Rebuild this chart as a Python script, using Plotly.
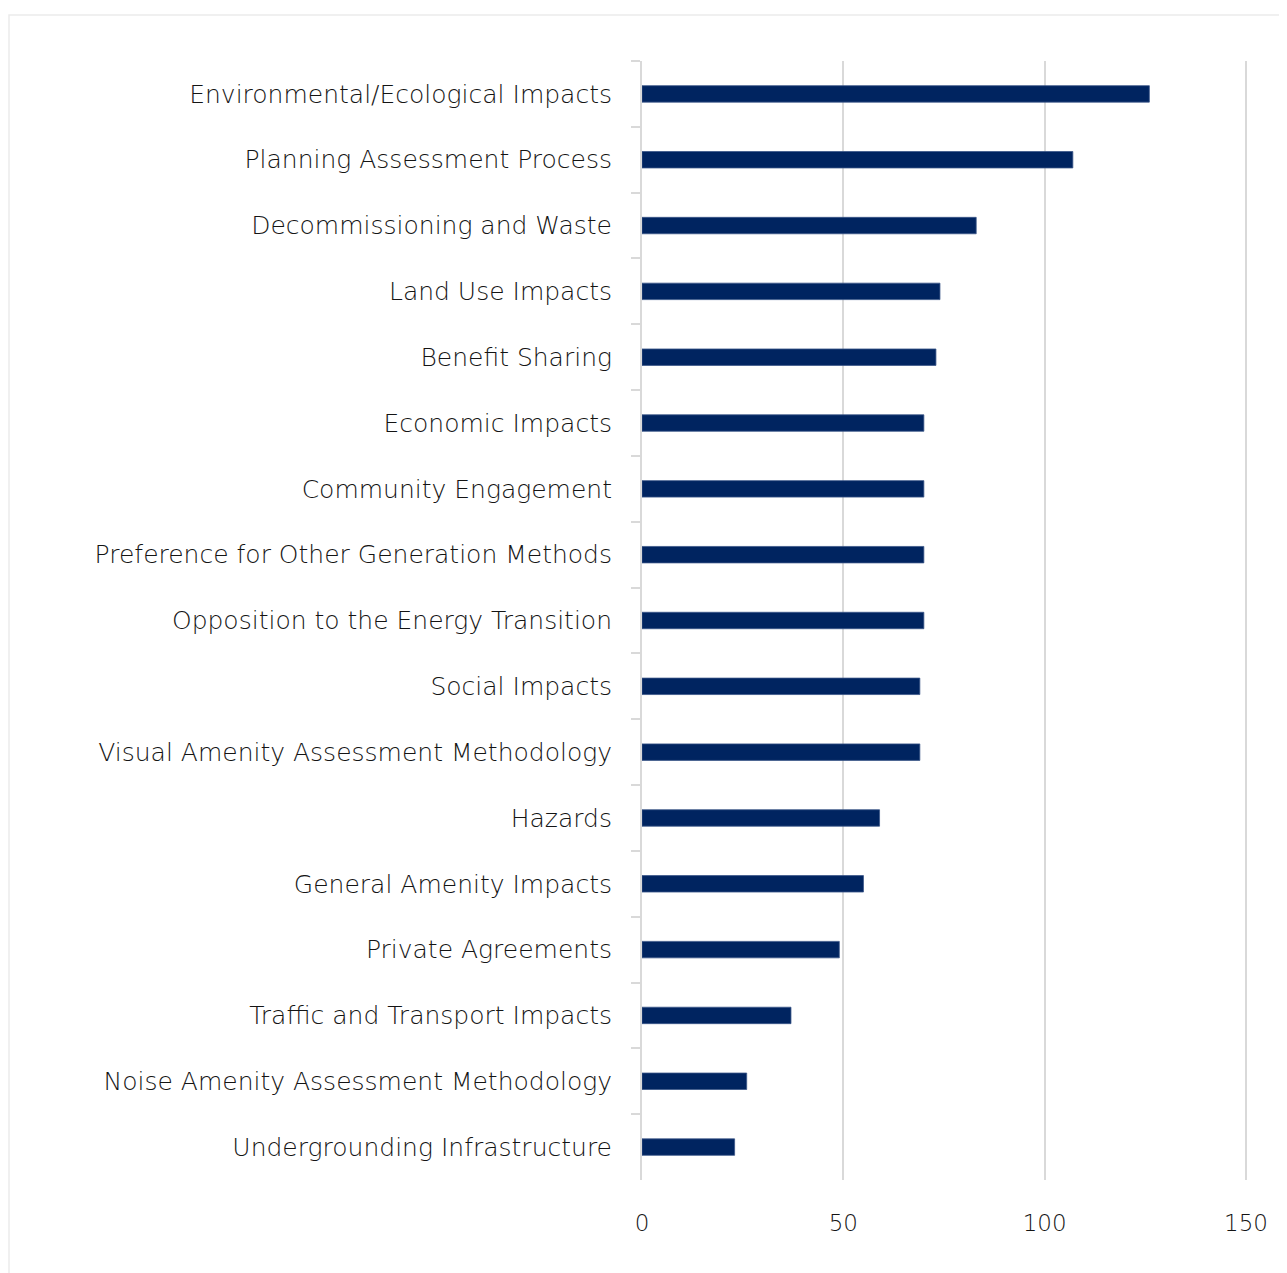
import plotly.graph_objects as go

categories = [
    "Environmental/Ecological Impacts",
    "Planning Assessment Process",
    "Decommissioning and Waste",
    "Land Use Impacts",
    "Benefit Sharing",
    "Economic Impacts",
    "Community Engagement",
    "Preference for Other Generation Methods",
    "Opposition to the Energy Transition",
    "Social Impacts",
    "Visual Amenity Assessment Methodology",
    "Hazards",
    "General Amenity Impacts",
    "Private Agreements",
    "Traffic and Transport Impacts",
    "Noise Amenity Assessment Methodology",
    "Undergrounding Infrastructure",
]
values = [126, 107, 83, 74, 73, 70, 70, 70, 70, 69, 69, 59, 55, 49, 37, 26, 23]
x_ticks = [0, 50, 100, 150]

W, H = 1279, 1265
ML, MR, MT, MB = 634, 37, 53, 93
PW, PH = W - ML - MR, H - MT - MB

YFONT = dict(family="DejaVu Sans", size=25, color="#141414", weight=300)
XFONT = dict(family="DejaVu Sans", size=23, color="#141414", weight=300)

fig = go.Figure(go.Bar(
    x=values, y=categories, orientation="h", width=0.25,
    marker=dict(color="#002460", line=dict(color="#3a5588", width=0.8)),
))

fig.update_layout(
    width=W, height=H,
    margin=dict(l=ML, r=MR, t=MT, b=MB, autoexpand=False),
    paper_bgcolor="white", plot_bgcolor="white",
    font=YFONT,
    showlegend=False,
    shapes=[dict(type="rect", xref="paper", yref="paper",
                 x0=(1 - ML) / PW, x1=(W + 5 - ML) / PW,
                 y0=-(MB + 5) / PH, y1=1 + (MT - 7) / PH,
                 line=dict(color="#ebebeb", width=1.5), layer="below")],
)
fig.update_xaxes(
    range=[0, 151], tickvals=x_ticks, showgrid=True, gridcolor="#d9d9d9", gridwidth=2,
    zeroline=False, showline=False, ticks="", ticklabelstandoff=27,
    tickfont=XFONT,
)
fig.update_yaxes(
    autorange="reversed", type="category", showline=True, linecolor="#d9d9d9", linewidth=2,
    ticks="outside", tickson="boundaries", ticklen=9, tickcolor="#d9d9d9", tickwidth=2,
    showgrid=False, ticklabelstandoff=23,
    tickfont=YFONT,
)

fig.write_html("out.html")
